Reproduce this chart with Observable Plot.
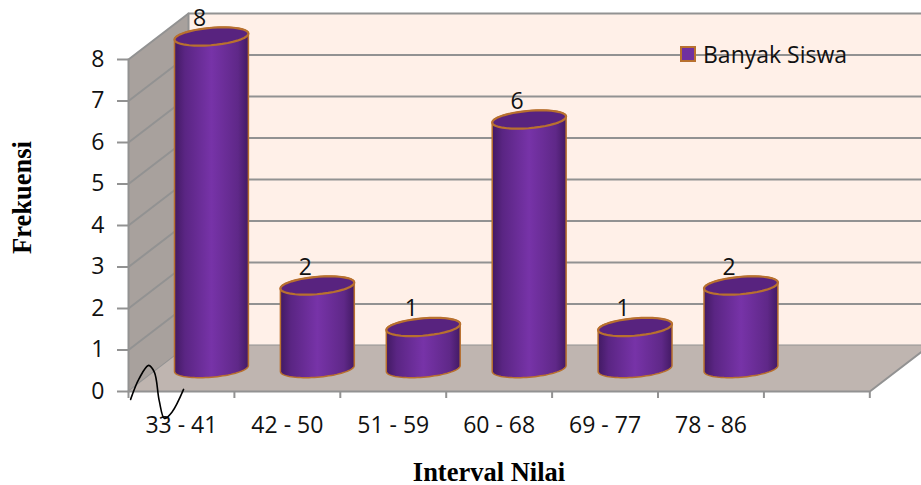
<!DOCTYPE html>
<html>
<head>
<meta charset="utf-8">
<script src="https://cdn.jsdelivr.net/npm/d3@7"></script>
<script src="https://cdn.jsdelivr.net/npm/@observablehq/plot@0.6"></script>
<style>
  html, body { margin: 0; padding: 0; background: #fff; }
  #chart { position: relative; width: 921px; height: 485px; overflow: hidden; }
  #legend {
    position: absolute; left: 680px; top: 38px; display: flex; align-items: center; gap: 7px;
    font: 23px "Open Sans", sans-serif; color: #111;
  }
  #legend i { display: block; width: 12px; height: 12px; background: #7030a0; border: 2px solid #b8702f; }
</style>
</head>
<body>
<div id="chart">
  <div id="legend"><i></i><span>Banyak Siswa</span></div>
</div>
<script>
const categories = ["33 - 41", "42 - 50", "51 - 59", "60 - 68", "69 - 77", "78 - 86"];
const frequencies = [8, 2, 1, 6, 1, 2];
const seriesName = "Banyak Siswa";
const valueTicks = [0, 1, 2, 3, 4, 5, 6, 7, 8];

// Pen stroke scribbled over the first axis label, in axis units.
const scribbleX = [0.02, 0.10, 0.19, 0.245, 0.29, 0.34, 0.41, 0.52];
const scribbleY = [-0.19, 0.31, 0.63, 0.46, -0.22, -0.65, -0.5, 0.05];

// Oblique projection: one unit of depth moves a point this far in x and y.
const depthX = 0.5666;
const depthY = 1.108;
const xEnd = 7.488;
const xFloorEnd = 6;
const project = (x, y, z) => ({x: x + z * depthX, y: y + z * depthY});

const wall = (pts) => pts.map(([x, y, z]) => project(x, y, z));
const backWall = wall([[0, 0, 1], [0, 8, 1], [xEnd, 8, 1], [xEnd, 0, 1]]);
const sideWall = wall([[0, 0, 0], [0, 8, 0], [0, 8, 1], [0, 0, 1]]);
const floor = wall([[0, 0, 0], [xFloorEnd + 1, 0, 0], [xFloorEnd + 1, 0, 1], [0, 0, 1]]);

const gridRows = valueTicks.flatMap((v) =>
  wall([[0, v, 0], [0, v, 1], [xEnd, v, 1]]).map((p) => ({...p, v}))
);

// A cylinder's circular section, seen through the projection.
const radiusX = 0.33;
const radiusZ = 0.2;
const edgeAngle = Math.atan2(radiusZ * depthX, radiusX);
const ring = (i, value, a) => project(i + 0.5 + radiusX * Math.cos(a), value, 0.5 + radiusZ * Math.sin(a));
const arc = (i, value, from, to) =>
  d3.range(41).map((k) => ring(i, value, from + (to - from) * k / 40));

const bodies = frequencies.flatMap((value, i) => [
  ...arc(i, 0, edgeAngle, edgeAngle - Math.PI),
  ...arc(i, value, edgeAngle + Math.PI, edgeAngle)
].map((p) => ({...p, i})));
const caps = frequencies.flatMap((value, i) =>
  arc(i, value, 0, 2 * Math.PI).slice(0, -1).map((p) => ({...p, i}))
);

const labelPoints = frequencies.map((value, i) => ({...project(i + 0.5, value, 0.5), value}));
const scribble = scribbleX.map((x, k) => ({x, y: scribbleY[k]}));

const grey = "#929292";
const rim = "#b8702f";
const sansFont = "'Open Sans', sans-serif";
const titleFont = "'Liberation Serif', serif";

const defs = () => {
  const svg = d3.create("svg:defs");
  const body = svg.append("linearGradient").attr("id", "barShade");
  [[0, "#421a63"], [0.14, "#5a2583"], [0.5, "#7733a8"], [0.86, "#5f2888"], [1, "#431a64"]]
    .forEach(([o, c]) => body.append("stop").attr("offset", o).attr("stop-color", c));
  return svg.node();
};

const chart = Plot.plot({
  width: 921,
  height: 485,
  marginLeft: 128,
  marginRight: 0,
  marginTop: 59,
  marginBottom: 94,
  x: {type: "linear", domain: [0, xEnd]},
  y: {type: "linear", domain: [0, 8]},
  style: {background: "transparent", overflow: "hidden"},
  marks: [
    defs,
    Plot.line(backWall, {x: "x", y: "y", curve: "linear-closed", fill: "#fff0e8", stroke: "none"}),
    Plot.line(sideWall, {x: "x", y: "y", curve: "linear-closed", fill: "#a8a19d", stroke: "none"}),
    Plot.line(gridRows, {x: "x", y: "y", z: "v", stroke: grey, strokeWidth: 2}),
    Plot.line(floor, {x: "x", y: "y", curve: "linear-closed", fill: "#bfb5b0", stroke: "none"}),
    Plot.line(wall([[0, 0, 1], [0, 8, 1]]), {x: "x", y: "y", stroke: grey, strokeWidth: 2}),
    Plot.line(wall([[0, 0, 0], [0, 8, 0]]), {x: "x", y: "y", stroke: grey, strokeWidth: 2}),
    Plot.line(wall([[0, 0, 0], [xFloorEnd + 1, 0, 0], [xFloorEnd + 1, 0, 1]]), {x: "x", y: "y", stroke: grey, strokeWidth: 2}),
    Plot.axisY({ticks: valueTicks, tickSize: 11, tickPadding: 13, label: null, stroke: grey, strokeWidth: 2, fontSize: 23, fontFamily: sansFont, fill: "#111"}),
    Plot.axisX({ticks: d3.range(0, 8), tickSize: 7, tickFormat: () => "", label: null, stroke: grey, strokeWidth: 2}),
    Plot.axisX({ticks: categories.map((_, i) => i + 0.5), tickSize: 0, tickPadding: 25, tickFormat: (d) => categories[d - 0.5], label: null, fontSize: 23, fontFamily: sansFont, fill: "#111"}),
    Plot.line(bodies, {x: "x", y: "y", z: "i", curve: "linear-closed", fill: "url(#barShade)", stroke: rim, strokeWidth: 1.5}),
    Plot.line(caps, {x: "x", y: "y", z: "i", curve: "linear-closed", fill: "#58237f", stroke: rim, strokeWidth: 2.2}),
    Plot.text(labelPoints, {x: "x", y: "y", text: "value", dx: -12, dy: -18, fontSize: 23, fontFamily: sansFont, fill: "#111"}),
    Plot.line(scribble, {x: "x", y: "y", curve: "catmull-rom", stroke: "#000", strokeWidth: 1.6}),
    Plot.text(["Frekuensi"], {frameAnchor: "left", textAnchor: "middle", dx: -106, dy: -28, rotate: -90, fontSize: 26.5, fontWeight: "bold", fontFamily: titleFont, fill: "#000"}),
    Plot.text(["Interval Nilai"], {frameAnchor: "bottom", dx: -36, dy: 89, fontSize: 26.5, fontWeight: "bold", fontFamily: titleFont, fill: "#000"})
  ]
});
document.getElementById("chart").prepend(chart);
document.querySelector("#legend span").textContent = seriesName;
</script>
</body>
</html>
